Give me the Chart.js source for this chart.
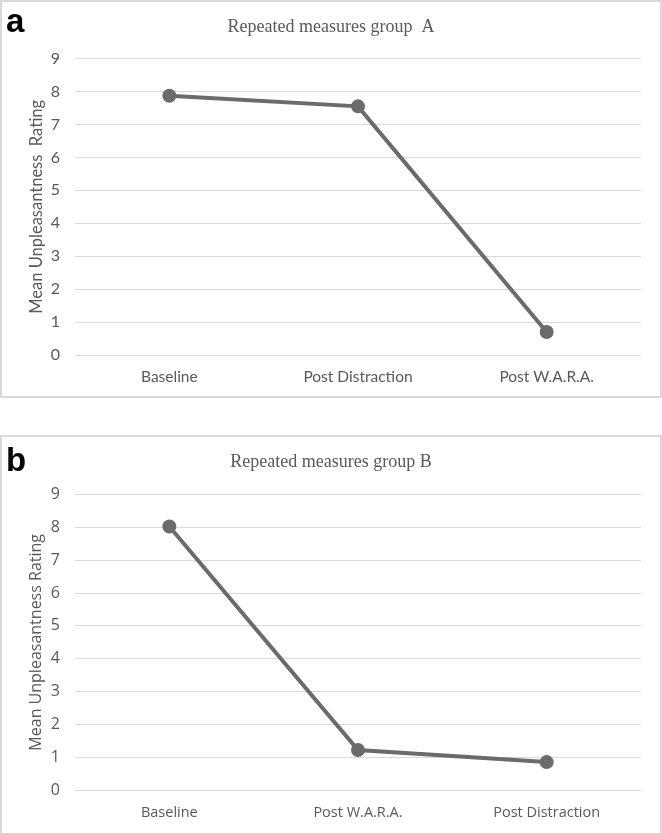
<!DOCTYPE html>
<html>
<head>
<meta charset="utf-8">
<script src="https://cdn.jsdelivr.net/npm/chart.js@4/dist/chart.umd.min.js"></script>
<style>
  html, body { margin: 0; padding: 0; background: #fff; }
  #wrap { position: relative; width: 662px; height: 833px; overflow: hidden; }
  .panel { position: absolute; left: 0; width: 658px; border: 2px solid #d9d9d9; background: #fff; }
  #pa { top: 0; height: 394px; }
  #pb { top: 435px; height: 400px; }
  .lbl { position: absolute; left: 6px; font-family: "Liberation Sans", Arial, sans-serif; font-weight: bold; font-size: 33px; color: #000; line-height: 1; }
  canvas { position: absolute; left: 0; top: 0; }
</style>
</head>
<body>
<div id="wrap">
  <div class="panel" id="pa"><canvas id="ca" width="658" height="394"></canvas></div>
  <div class="panel" id="pb"><canvas id="cb" width="658" height="400"></canvas></div>
  <div class="lbl" style="top:4px;">a</div>
  <div class="lbl" style="top:443px;">b</div>
</div>
<script>
const categoriesA = ["Baseline", "Post Distraction", "Post W.A.R.A."];
const valuesA = [7.87, 7.55, 0.70];
const categoriesB = ["Baseline", "Post W.A.R.A.", "Post Distraction"];
const valuesB = [8.03, 1.22, 0.85];
const titleA = "Repeated measures group  A";
const titleB = "Repeated measures group B";
const yTitleA = "Mean Unpleasantness  Rating";
const yTitleB = "Mean Unpleasantness Rating";
const yMin = 0, yMax = 9, yStep = 1;

function makeChart(id, cats, vals, title, yTitle, fontFam, yTitleSize, xTickSize, xAxisH, xPad, titlePadTop, titlePadBottom) {
  const gray = "#595959";
  return new Chart(document.getElementById(id), {
    type: "line",
    data: {
      labels: cats,
      datasets: [{
        data: vals,
        borderColor: "#6b6b6b",
        backgroundColor: "#6b6b6b",
        borderWidth: 4,
        pointRadius: 5,
        pointHoverRadius: 5,
        pointBackgroundColor: "#6b6b6b",
        pointBorderColor: "#6b6b6b",
        tension: 0,
        fill: false
      }]
    },
    options: {
      responsive: false,
      animation: false,
      events: [],
      layout: { padding: { left: 19, right: 19, top: 0, bottom: 0 } },
      plugins: {
        legend: { display: false },
        tooltip: { enabled: false },
        title: {
          display: true,
          text: title,
          color: gray,
          font: { family: "'Liberation Serif', 'Times New Roman', serif", size: 18, weight: "normal" },
          padding: { top: titlePadTop, bottom: titlePadBottom }
        }
      },
      scales: {
        x: {
          type: "category",
          offset: true,
          grid: { display: false, drawTicks: false },
          border: { display: false },
          ticks: { color: gray, font: { family: fontFam, size: xTickSize }, padding: xPad },
          afterFit: (s) => { s.height = xAxisH; }
        },
        y: {
          min: yMin, max: yMax,
          ticks: { stepSize: yStep, color: gray, font: { family: fontFam, size: 16 }, padding: 15 },
          grid: { color: "#d9d9d9", lineWidth: 1, drawTicks: false },
          border: { display: false },
          title: {
            display: true, text: yTitle, color: gray,
            font: { family: fontFam, size: yTitleSize }, padding: { top: 6, bottom: 0 }
          },
          afterFit: (s) => { s.width = 54; }
        }
      }
    }
  });
}
const chA = makeChart("ca", categoriesA, valuesA, titleA, yTitleA, "Lato, 'Open Sans', sans-serif", 16.5, 15.5, 41, 13, 14, 21);
const chB = makeChart("cb", categoriesB, valuesB, titleB, yTitleB, "'Open Sans', sans-serif", 16, 14.5, 47, 14, 14, 22);
</script>
</body>
</html>
